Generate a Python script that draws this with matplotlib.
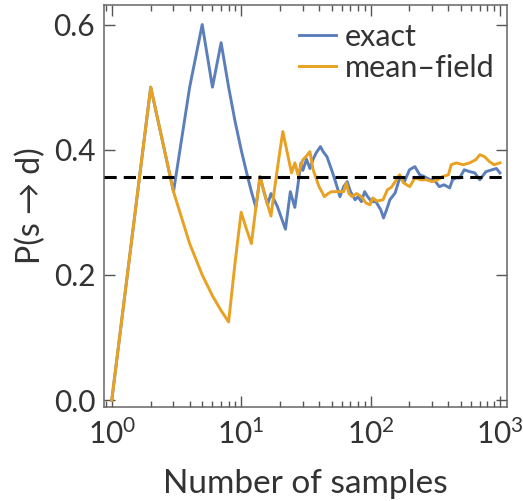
import matplotlib
matplotlib.use("Agg")
import matplotlib.pyplot as plt

# running estimate of P(s -> d)
exact_n = [1, 2, 3, 4, 5, 6, 7, 8, 9, 10, 11, 12, 13, 14, 15, 16, 17, 19, 22,
           24, 25, 26, 29, 30, 32, 34, 36, 38, 41, 43, 46, 50, 53, 56, 58, 62,
           66, 70, 76, 80, 85, 90, 95, 102, 110, 120, 126, 133, 141, 155, 168,
           183, 200, 220, 240, 260, 290, 310, 340, 370, 409, 430, 460, 489,
           530, 584, 640, 698, 780, 870, 940, 1000]
exact_p = [0.0, 0.5, 0.333, 0.5, 0.6, 0.5, 0.571, 0.5, 0.444, 0.4, 0.364,
           0.333, 0.308, 0.357, 0.333, 0.3125, 0.33, 0.31, 0.273,
           0.333, 0.32, 0.308, 0.379, 0.367, 0.385, 0.37, 0.385, 0.395, 0.405,
           0.397, 0.389, 0.368, 0.352, 0.336, 0.325, 0.341,
           0.349, 0.333, 0.32, 0.325, 0.317, 0.333, 0.325, 0.317, 0.317, 0.304,
           0.291, 0.304, 0.32, 0.331, 0.355,
           0.349, 0.368, 0.373, 0.36, 0.357, 0.352, 0.352, 0.341, 0.344,
           0.339, 0.352, 0.355, 0.355,
           0.368, 0.365, 0.363, 0.352, 0.365, 0.368, 0.37, 0.363]

mf_n = [1, 2, 3, 4, 5, 6, 7, 8, 9, 10, 11, 12, 13, 14, 15, 16, 17, 18, 19,
        20, 21, 24.5, 26, 27.5, 30, 32, 34, 36, 40, 42, 44, 47, 50, 55, 58,
        62, 65, 68, 72, 78, 85, 92, 99, 104, 112, 125, 135, 145, 168, 180,
        201, 220, 245, 270, 300, 330, 360, 400, 420, 460, 520, 584, 650, 700,
        760, 830, 900, 1000]
mf_p = [0.0, 0.5, 0.333, 0.25, 0.2, 0.1667, 0.143, 0.125, 0.222, 0.3, 0.273,
        0.25, 0.308, 0.357, 0.333, 0.3125, 0.294, 0.333, 0.368,
        0.4, 0.429, 0.363, 0.379, 0.36, 0.384, 0.39, 0.397, 0.368, 0.341,
        0.333, 0.325, 0.33, 0.333, 0.333, 0.333,
        0.333, 0.347, 0.33, 0.325, 0.33, 0.325, 0.315, 0.312, 0.323, 0.318,
        0.32, 0.336, 0.34, 0.36, 0.347,
        0.341, 0.355, 0.352, 0.352, 0.349, 0.352, 0.357, 0.36, 0.376, 0.379,
        0.376, 0.379, 0.384, 0.392,
        0.389, 0.381, 0.376, 0.379]

p_true = 0.3564

TXT = "#333333"
plt.rcParams["font.family"] = ["Lato", "DejaVu Sans"]
plt.rcParams["font.size"] = 23
plt.rcParams["text.color"] = TXT
plt.rcParams["axes.labelcolor"] = TXT
plt.rcParams["xtick.labelcolor"] = TXT
plt.rcParams["ytick.labelcolor"] = TXT
plt.rcParams["mathtext.fontset"] = "custom"
plt.rcParams["mathtext.rm"] = "Lato"
plt.rcParams["mathtext.it"] = "Lato"

fig = plt.figure(figsize=(5.23, 5.01), dpi=100)
ax = fig.add_axes([0.198, 0.188, 0.771, 0.803])

ax.plot(exact_n, exact_p, color="#5b7fbb", lw=2.1, label="exact")
ax.plot(mf_n, mf_p, color="#e8a122", lw=2.1, label="mean–field")
ax.axhline(p_true, color="k", lw=2.2, ls="--", dashes=(4, 2.3), zorder=5)

ax.set_xscale("log")
ax.set_xlim(0.864, 1130)
ax.set_ylim(-0.0107, 0.632)
ax.set_yticks([0.0, 0.2, 0.4, 0.6])
ax.set_yticklabels(["0.0", "0.2", "0.4", "0.6"])

for s in ax.spines.values():
    s.set_color("#666666")
    s.set_linewidth(1.1)
ax.tick_params(which="both", direction="in", top=True, right=True,
               color="#555555", width=1.0)
ax.tick_params(which="major", length=8, pad=6, labelsize=21.5)
ax.tick_params(which="minor", length=4.5)
ax.tick_params(axis="x", which="major", pad=8)
ax.tick_params(axis="y", which="minor", left=False, right=False)

ax.set_xlabel("Number of samples", fontsize=24, labelpad=15)
ax.set_ylabel("P(s → d)", labelpad=5)

ax.legend(loc="upper right", frameon=False, fontsize=22, handlelength=1.2,
          handletextpad=0.3, labelspacing=0.1, borderaxespad=0.0,
          bbox_to_anchor=(1.0, 0.985))

fig.savefig("out.png", dpi=100)
